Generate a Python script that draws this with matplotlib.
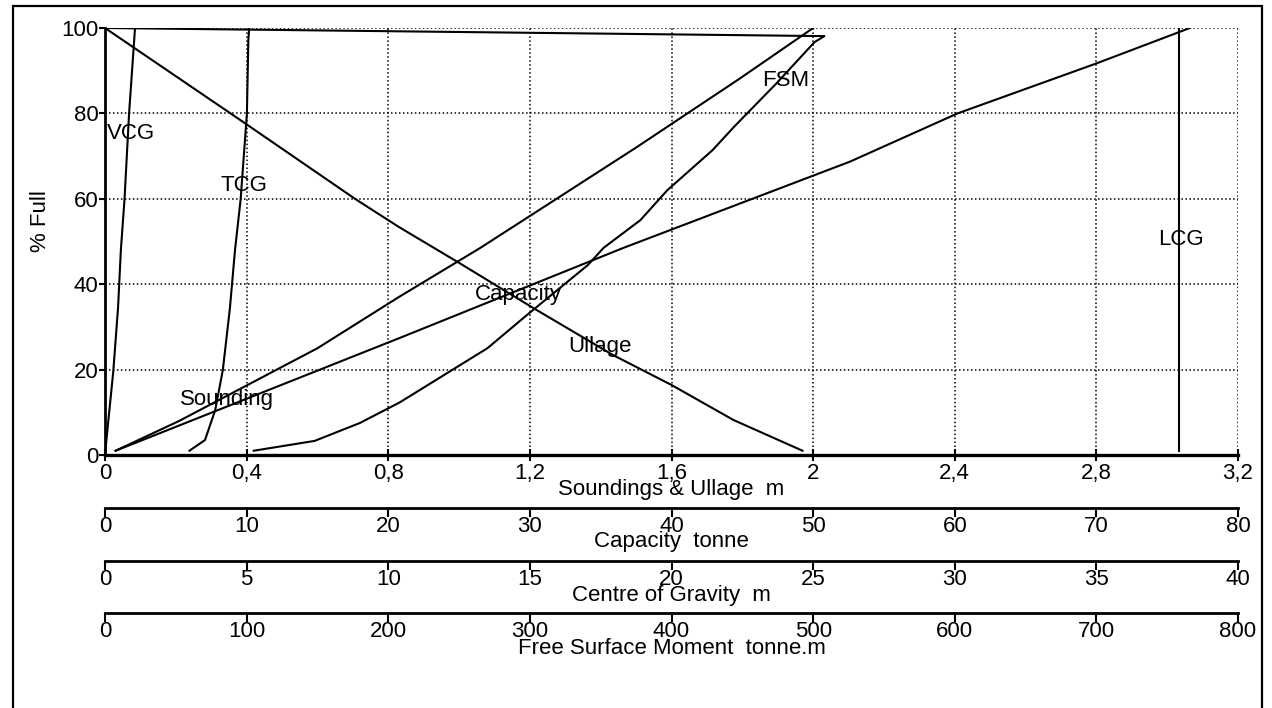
import matplotlib
matplotlib.use("Agg")
import matplotlib.pyplot as plt
from matplotlib.patches import Rectangle
from matplotlib.ticker import FuncFormatter

plt.rcParams['font.family'] = ['Liberation Sans', 'DejaVu Sans']

# Tank calibration curves, each against its own scale
pct_sounding = [1, 8, 25, 37, 48.5, 72, 88, 100]
sounding = [0.03, 0.21, 0.60, 0.83, 1.06, 1.50, 1.79, 2.00]

pct_ullage = [100, 78, 60, 53.4, 45, 34.4, 23.4, 16.4, 8.2, 1]
ullage = [0.0, 0.39, 0.706, 0.83, 1.00, 1.21, 1.435, 1.60, 1.775, 1.97]

pct_capacity = [1, 27.4, 48.5, 68.7, 80, 91.7, 100]
capacity = [0.75, 20.8, 36.6, 52.6, 60.2, 70.0, 76.6]

pct_fsm = [1, 3.3, 7.5, 12.3, 25, 32.8, 44.5, 48.5, 55, 62, 71.4, 76.8, 87, 96.7, 98.1, 100]
fsm = [105, 148, 180, 208, 270, 298, 341, 352, 378, 397, 429, 444, 474, 501, 508, 0]

pct_vcg = [1, 2.8, 7.5, 19.4, 34.4, 48, 60, 80, 100]
vcg = [0.02, 0.04, 0.11, 0.29, 0.46, 0.56, 0.69, 0.85, 1.06]

pct_tcg = [1, 3.5, 10.5, 19.9, 34.4, 48, 60, 80, 97, 100]
tcg = [2.98, 3.53, 3.89, 4.16, 4.41, 4.59, 4.79, 5.01, 5.06, 5.09]

pct_lcg = [1, 50, 100]
lcg = [37.92, 37.92, 37.92]

# ticks of the main axes and of the scales drawn under the plot
sounding_ticks = [0, 0.4, 0.8, 1.2, 1.6, 2.0, 2.4, 2.8, 3.2]
capacity_ticks = [0, 10, 20, 30, 40, 50, 60, 70, 80]
cg_ticks = [0, 5, 10, 15, 20, 25, 30, 35, 40]
fsm_ticks = [0, 100, 200, 300, 400, 500, 600, 700, 800]
pct_ticks = [0, 20, 40, 60, 80, 100]

W, H = 1272, 708
FS = 16

def fx(px):
    return px / W

def fy(py):
    return 1 - py / H

fig = plt.figure(figsize=(W / 100, H / 100), dpi=100)

# outer frame
fig.patches.append(Rectangle((fx(13), fy(760)), fx(1262) - fx(13), fy(6) - fy(760),
                             transform=fig.transFigure, fill=False, lw=1.6,
                             edgecolor='black'))

x0, x1, ytop, ybot = 105, 1238, 28, 455
ax = fig.add_axes([fx(x0), fy(ybot), fx(x1) - fx(x0), fy(ytop) - fy(ybot)])

xmax = sounding_ticks[-1]
k_cap = xmax / capacity_ticks[-1]
k_cg = xmax / cg_ticks[-1]
k_fsm = xmax / fsm_ticks[-1]

line_kw = dict(color='black', lw=1.5, solid_joinstyle='round')
ax.plot(sounding, pct_sounding, **line_kw)
ax.plot(ullage, pct_ullage, **line_kw)
ax.plot([c * k_cap for c in capacity], pct_capacity, **line_kw)
ax.plot([f * k_fsm for f in fsm], pct_fsm, **line_kw)
ax.plot([v * k_cg for v in vcg], pct_vcg, **line_kw)
ax.plot([t * k_cg for t in tcg], pct_tcg, **line_kw)
ax.plot([l * k_cg for l in lcg], pct_lcg, **line_kw)

# curve names
labels = [("VCG", 0.006, 75.4), ("TCG", 0.325, 63.0), ("Sounding", 0.212, 12.9),
          ("Capacity", 1.045, 37.5), ("Ullage", 1.308, 25.5), ("FSM", 1.856, 87.6),
          ("LCG", 2.974, 50.4)]
for name, lx, ly in labels:
    ax.text(lx, ly, name, fontsize=FS, ha='left', va='center')

ax.set_xlim(0, xmax)
ax.set_ylim(0, 100)
ax.set_xticks(sounding_ticks)
ax.set_yticks(pct_ticks)
ax.xaxis.set_major_formatter(FuncFormatter(lambda v, p: ('%g' % round(v, 2)).replace('.', ',')))
ax.grid(True, color='black', linestyle=(0, (1, 1.6)), lw=1.1)
for s in ('top', 'right'):
    ax.spines[s].set_visible(False)
ax.spines['left'].set_linewidth(2)
ax.spines['bottom'].set_linewidth(2.4)
ax.tick_params(axis='x', direction='inout', length=9, width=1.5, labelsize=FS, pad=1.5)
ax.tick_params(axis='y', direction='out', length=4.5, width=1.5, labelsize=FS, pad=0)

fig.text(fx(40), fy(221), "% Full", rotation=90, fontsize=FS, ha='center', va='center')

# extra scales
def scale_axis(py, ticks):
    a = fig.add_axes([fx(x0), fy(py), fx(x1) - fx(x0), 0.0001])
    for s in ('top', 'right', 'left'):
        a.spines[s].set_visible(False)
    a.spines['bottom'].set_linewidth(2)
    a.set_yticks([])
    a.set_xlim(ticks[0], ticks[-1])
    a.set_xticks(ticks)
    a.xaxis.set_major_formatter(FuncFormatter(lambda v, p: '%g' % v))
    a.tick_params(axis='x', direction='out', length=6.5, width=1.5, labelsize=FS, pad=-0.5)
    a.patch.set_visible(False)
    return a

scale_axis(508, capacity_ticks)
scale_axis(561, cg_ticks)
scale_axis(613, fsm_ticks)

xc = fx((x0 + x1) / 2)
fig.text(xc, fy(490), "Soundings & Ullage  m", fontsize=FS, ha='center', va='center')
fig.text(xc, fy(542), "Capacity  tonne", fontsize=FS, ha='center', va='center')
fig.text(xc, fy(595), "Centre of Gravity  m", fontsize=FS, ha='center', va='center')
fig.text(xc, fy(648), "Free Surface Moment  tonne.m", fontsize=FS, ha='center', va='center')

fig.savefig("out.png", dpi=100, facecolor='white')
